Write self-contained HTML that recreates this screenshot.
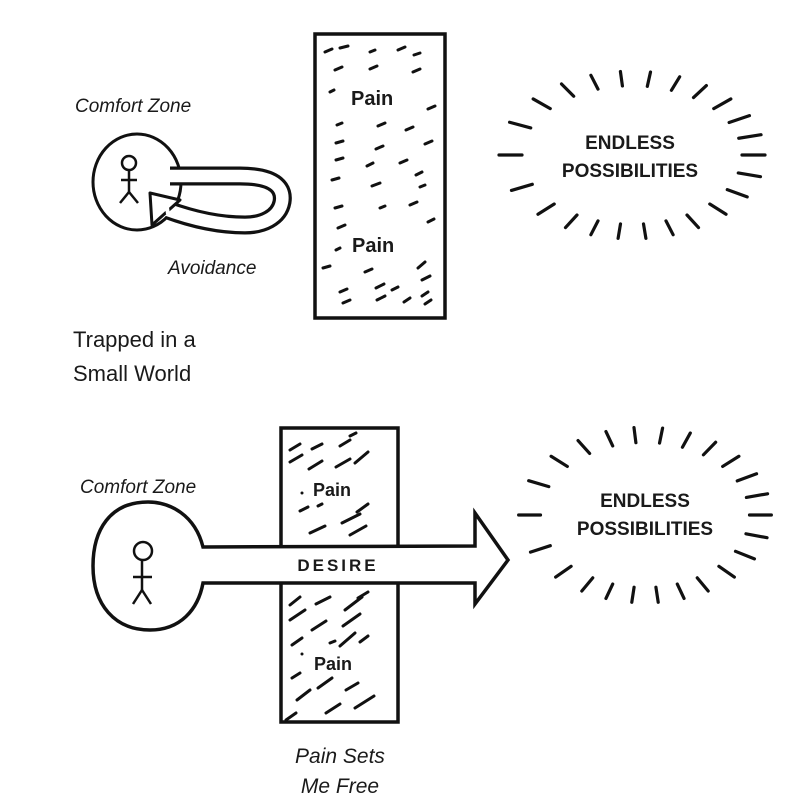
<!DOCTYPE html>
<html><head><meta charset="utf-8"><style>
html,body{margin:0;padding:0;background:#fff}
svg{display:block}
text{font-family:"Liberation Sans",sans-serif;fill:#1a1a1a}
</style></head><body>
<svg width="800" height="800" viewBox="0 0 800 800" xmlns="http://www.w3.org/2000/svg">
<rect width="800" height="800" fill="#fff"/>
<defs>
<g id="rays1">
<g stroke="#111" stroke-width="3.2" stroke-linecap="round">
<line x1="110" y1="0" x2="133" y2="0" transform="rotate(0)" vector-effect="non-scaling-stroke"/>
<line x1="110" y1="0" x2="133" y2="0" transform="rotate(15)" vector-effect="non-scaling-stroke"/>
<line x1="110" y1="0" x2="133" y2="0" transform="rotate(30)" vector-effect="non-scaling-stroke"/>
<line x1="110" y1="0" x2="133" y2="0" transform="rotate(45)" vector-effect="non-scaling-stroke"/>
<line x1="110" y1="0" x2="133" y2="0" transform="rotate(60)" vector-effect="non-scaling-stroke"/>
<line x1="110" y1="0" x2="133" y2="0" transform="rotate(72)" vector-effect="non-scaling-stroke"/>
<line x1="110" y1="0" x2="133" y2="0" transform="rotate(84)" vector-effect="non-scaling-stroke"/>
<line x1="110" y1="0" x2="133" y2="0" transform="rotate(96)" vector-effect="non-scaling-stroke"/>
<line x1="110" y1="0" x2="133" y2="0" transform="rotate(108)" vector-effect="non-scaling-stroke"/>
<line x1="110" y1="0" x2="133" y2="0" transform="rotate(120)" vector-effect="non-scaling-stroke"/>
<line x1="110" y1="0" x2="133" y2="0" transform="rotate(135)" vector-effect="non-scaling-stroke"/>
<line x1="110" y1="0" x2="133" y2="0" transform="rotate(155)" vector-effect="non-scaling-stroke"/>
<line x1="110" y1="0" x2="133" y2="0" transform="rotate(180)" vector-effect="non-scaling-stroke"/>
<line x1="110" y1="0" x2="133" y2="0" transform="rotate(203)" vector-effect="non-scaling-stroke"/>
<line x1="110" y1="0" x2="133" y2="0" transform="rotate(222)" vector-effect="non-scaling-stroke"/>
<line x1="110" y1="0" x2="133" y2="0" transform="rotate(238)" vector-effect="non-scaling-stroke"/>
<line x1="110" y1="0" x2="133" y2="0" transform="rotate(252)" vector-effect="non-scaling-stroke"/>
<line x1="110" y1="0" x2="133" y2="0" transform="rotate(265)" vector-effect="non-scaling-stroke"/>
<line x1="110" y1="0" x2="133" y2="0" transform="rotate(278)" vector-effect="non-scaling-stroke"/>
<line x1="110" y1="0" x2="133" y2="0" transform="rotate(291)" vector-effect="non-scaling-stroke"/>
<line x1="110" y1="0" x2="133" y2="0" transform="rotate(304)" vector-effect="non-scaling-stroke"/>
<line x1="110" y1="0" x2="133" y2="0" transform="rotate(318)" vector-effect="non-scaling-stroke"/>
<line x1="110" y1="0" x2="133" y2="0" transform="rotate(332)" vector-effect="non-scaling-stroke"/>
<line x1="110" y1="0" x2="133" y2="0" transform="rotate(346)" vector-effect="non-scaling-stroke"/>
</g>
</g>
</defs>

<!-- TOP -->
<text x="75" y="112" font-size="19" font-style="italic">Comfort Zone</text>
<ellipse cx="137" cy="182" rx="44" ry="48" fill="#fff" stroke="#111" stroke-width="3"/>
<!-- loop arrow -->
<path d="M170,176 L240,176 C278,176 284,190 282,202 C279,218 262,225 245,225 C220,225 195,220 168,210" fill="none" stroke="#111" stroke-width="19" stroke-linejoin="round"/>
<path d="M166,176 L240,176 C278,176 284,190 282,202 C279,218 262,225 245,225 C220,225 195,220 165,209" fill="none" stroke="#fff" stroke-width="12.5" stroke-linejoin="round"/>
<polygon points="150,193 180,200 152,225" fill="#fff" stroke="#111" stroke-width="3" stroke-linejoin="round"/>
<line x1="166" y1="201" x2="168" y2="214" stroke="#fff" stroke-width="4"/>
<!-- stick figure -->
<g stroke="#111" stroke-width="2.5" fill="none">
<circle cx="129" cy="163" r="7"/>
<line x1="129" y1="170" x2="129" y2="192"/>
<line x1="121" y1="180" x2="137" y2="180"/>
<line x1="129" y1="192" x2="120" y2="203"/>
<line x1="129" y1="192" x2="138" y2="203"/>
</g>
<text x="168" y="274" font-size="19" font-style="italic">Avoidance</text>
<text x="73" y="347" font-size="22">Trapped in a</text>
<text x="73" y="381" font-size="22">Small World</text>

<rect x="315" y="34" width="130" height="284" fill="none" stroke="#111" stroke-width="3.5"/>
<g stroke="#111" stroke-width="3" stroke-linecap="round">
<line x1="325" y1="52" x2="332" y2="49"/><line x1="340" y1="48" x2="348" y2="46"/><line x1="370" y1="52" x2="375" y2="50"/><line x1="398" y1="50" x2="405" y2="47"/><line x1="414" y1="55" x2="420" y2="53"/>
<line x1="335" y1="70" x2="342" y2="67"/><line x1="370" y1="69" x2="377" y2="66"/><line x1="413" y1="72" x2="420" y2="69"/>
<line x1="330" y1="92" x2="334" y2="90"/><line x1="428" y1="109" x2="435" y2="106"/>
<line x1="337" y1="125" x2="342" y2="123"/><line x1="378" y1="126" x2="385" y2="123"/><line x1="406" y1="130" x2="413" y2="127"/><line x1="425" y1="144" x2="432" y2="141"/>
<line x1="336" y1="143" x2="343" y2="141"/><line x1="376" y1="149" x2="383" y2="146"/>
<line x1="336" y1="160" x2="343" y2="158"/><line x1="367" y1="166" x2="373" y2="163"/><line x1="400" y1="163" x2="407" y2="160"/><line x1="416" y1="175" x2="422" y2="172"/>
<line x1="332" y1="180" x2="339" y2="178"/><line x1="372" y1="186" x2="380" y2="183"/><line x1="420" y1="187" x2="425" y2="185"/>
<line x1="335" y1="208" x2="342" y2="206"/><line x1="380" y1="208" x2="385" y2="206"/><line x1="410" y1="205" x2="417" y2="202"/>
<line x1="338" y1="228" x2="345" y2="225"/><line x1="428" y1="222" x2="434" y2="219"/>
<line x1="336" y1="250" x2="340" y2="248"/><line x1="323" y1="268" x2="330" y2="266"/><line x1="418" y1="268" x2="425" y2="262"/>
<line x1="365" y1="272" x2="372" y2="269"/><line x1="422" y1="280" x2="430" y2="276"/>
<line x1="340" y1="292" x2="347" y2="289"/><line x1="376" y1="288" x2="384" y2="284"/><line x1="392" y1="290" x2="398" y2="287"/>
<line x1="343" y1="303" x2="350" y2="300"/><line x1="377" y1="300" x2="385" y2="296"/><line x1="404" y1="302" x2="410" y2="298"/><line x1="422" y1="296" x2="428" y2="292"/><line x1="425" y1="304" x2="431" y2="300"/>
</g>
<text x="351" y="105" font-size="20" font-weight="bold">Pain</text>
<text x="352" y="252" font-size="20" font-weight="bold">Pain</text>

<g transform="translate(632,155) scale(1,0.63)"><use href="#rays1"/></g>
<text x="630" y="149" font-size="19" font-weight="bold" text-anchor="middle">ENDLESS</text>
<text x="630" y="177" font-size="19" font-weight="bold" text-anchor="middle">POSSIBILITIES</text>

<!-- BOTTOM -->
<text x="80" y="493" font-size="19" font-style="italic">Comfort Zone</text>
<rect x="281" y="428" width="117" height="294" fill="#fff" stroke="#111" stroke-width="3.5"/>
<g stroke="#111" stroke-width="3" stroke-linecap="round">
<line x1="290" y1="450" x2="300" y2="444"/><line x1="312" y1="449" x2="322" y2="444"/><line x1="340" y1="446" x2="350" y2="440"/><line x1="350" y1="436" x2="356" y2="433"/>
<line x1="290" y1="462" x2="302" y2="455"/><line x1="309" y1="469" x2="322" y2="461"/><line x1="336" y1="467" x2="350" y2="459"/><line x1="355" y1="463" x2="368" y2="452"/>
<line x1="300" y1="511" x2="308" y2="507"/><line x1="318" y1="506" x2="322" y2="504"/><line x1="357" y1="512" x2="368" y2="504"/>
<line x1="342" y1="523" x2="360" y2="514"/><line x1="350" y1="535" x2="366" y2="526"/><line x1="310" y1="533" x2="325" y2="526"/>
<line x1="290" y1="605" x2="300" y2="597"/><line x1="316" y1="604" x2="330" y2="597"/><line x1="345" y1="610" x2="362" y2="597"/><line x1="358" y1="598" x2="368" y2="592"/>
<line x1="290" y1="620" x2="305" y2="610"/><line x1="312" y1="630" x2="326" y2="621"/><line x1="343" y1="626" x2="360" y2="614"/>
<line x1="292" y1="645" x2="302" y2="638"/><line x1="340" y1="646" x2="355" y2="633"/><line x1="360" y1="642" x2="368" y2="636"/><line x1="330" y1="643" x2="335" y2="641"/>
<line x1="292" y1="678" x2="300" y2="673"/><line x1="318" y1="688" x2="332" y2="678"/><line x1="346" y1="690" x2="358" y2="683"/>
<line x1="297" y1="700" x2="310" y2="690"/><line x1="326" y1="713" x2="340" y2="704"/><line x1="355" y1="708" x2="374" y2="696"/><line x1="286" y1="720" x2="296" y2="713"/>
</g>
<text x="313" y="496" font-size="18" font-weight="bold">Pain</text>
<text x="314" y="670" font-size="18" font-weight="bold">Pain</text>
<circle cx="302" cy="493" r="1.5" fill="#111"/>
<circle cx="302" cy="654" r="1.5" fill="#111"/>

<!-- lollipop + arrow -->
<path d="M203,547 C195,515 170,502 148,502 C110,502 93,530 93,566 C93,605 115,630 150,630 C180,630 198,610 203,583 L475,583 L475,604 L508,560 L475,513 L475,546 Z" fill="#fff" stroke="#111" stroke-width="3.5" stroke-linejoin="miter"/>
<g stroke="#111" stroke-width="2.5" fill="none">
<circle cx="143" cy="551" r="9"/>
<line x1="142" y1="560" x2="142" y2="590"/>
<line x1="133" y1="577" x2="152" y2="577"/>
<line x1="142" y1="590" x2="133" y2="604"/>
<line x1="142" y1="590" x2="151" y2="604"/>
</g>
<text x="338" y="571" font-size="17" font-weight="bold" text-anchor="middle" letter-spacing="3">DESIRE</text>

<g transform="translate(645,515) scale(1,0.66)"><g transform="scale(0.95,1)"><use href="#rays1"/></g></g>
<text x="645" y="507" font-size="19" font-weight="bold" text-anchor="middle">ENDLESS</text>
<text x="645" y="535" font-size="19" font-weight="bold" text-anchor="middle">POSSIBILITIES</text>

<text x="340" y="763" font-size="21" font-style="italic" text-anchor="middle">Pain Sets</text>
<text x="340" y="793" font-size="21" font-style="italic" text-anchor="middle">Me Free</text>
</svg>
</body></html>
